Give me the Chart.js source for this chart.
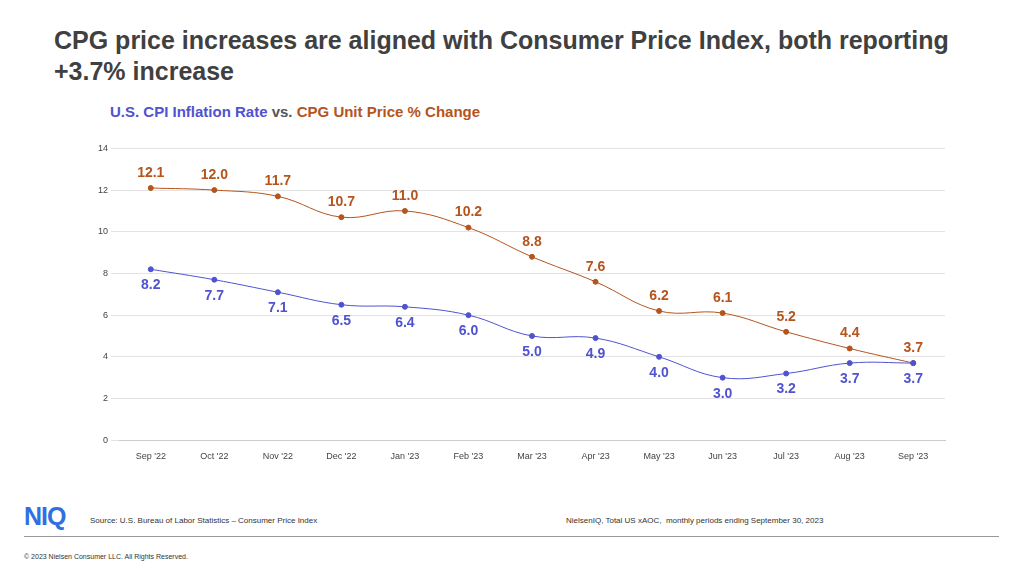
<!DOCTYPE html>
<html><head><meta charset="utf-8">
<script src="https://cdn.jsdelivr.net/npm/chart.js@4"></script>
<style>
body{margin:0;width:1024px;height:576px;background:#fff;font-family:Arial,"Liberation Sans",sans-serif;position:relative;overflow:hidden}
.t{position:absolute;left:54px;top:25px;font-size:25px;font-weight:bold;color:#404040;line-height:31px;width:960px}
.st{position:absolute;left:110px;top:103px;font-size:15px;font-weight:bold;color:#555}
#wrap{position:absolute;left:95px;top:140px;width:860px;height:325px}
.f{position:absolute;font-size:8px;color:#333}
.logo{position:absolute;left:24px;top:502px;font-size:25px;font-weight:900;color:#2f6fe0;letter-spacing:-1px}
.rule{position:absolute;left:24px;top:536px;width:975px;height:1px;background:#999}
</style></head><body>
<div class="t">CPG price increases are aligned with Consumer Price Index, both reporting +3.7% increase</div>
<div class="st"><span style="color:#4F53CF">U.S. CPI Inflation Rate</span> vs. <span style="color:#B5541C">CPG Unit Price % Change</span></div>
<div id="wrap"><canvas id="c"></canvas></div>
<div class="logo">NIQ</div>
<div class="f" style="left:90px;top:516px">Source: U.S. Bureau of Labor Statistics – Consumer Price Index</div>
<div class="f" style="left:566px;top:516px">NielsenIQ, Total US xAOC,&nbsp; monthly periods ending September 30, 2023</div>
<div class="rule"></div>
<div class="f" style="left:24px;top:553px;font-size:7px">© 2023 Nielsen Consumer LLC. All Rights Reserved.</div>
<script>
const categories=["Sep '22","Oct '22","Nov '22","Dec '22","Jan '23","Feb '23","Mar '23","Apr '23","May '23","Jun '23","Jul '23","Aug '23","Sep '23"];
const cpi=[8.2,7.7,7.1,6.5,6.4,6.0,5.0,4.9,4.0,3.0,3.2,3.7,3.7];
const cpg=[12.1,12.0,11.7,10.7,11.0,10.2,8.8,7.6,6.2,6.1,5.2,4.4,3.7];
const yTicks=[0,2,4,6,8,10,12,14];
const BLUE='#4F53CF',ORANGE='#B5541C';
const labels={id:'lbl',afterDatasetsDraw(ch){const x=ch.ctx;x.save();x.font='bold 14px Arial';x.textAlign='center';
ch.data.datasets.forEach((d,i)=>{const m=ch.getDatasetMeta(i);x.fillStyle=d.borderColor;
m.data.forEach((p,j)=>{x.textBaseline=i==1?'bottom':'top';x.fillText(d.data[j].toFixed(1),p.x,i==1?p.y-8:p.y+9);});});x.restore();}};
new Chart(document.getElementById('c'),{type:'line',
data:{labels:categories,datasets:[
{data:cpi,borderColor:BLUE,backgroundColor:BLUE,borderWidth:1,pointRadius:2.5,tension:0.4},
{data:cpg,borderColor:ORANGE,backgroundColor:ORANGE,borderWidth:1,pointRadius:2.5,tension:0.4}]},
options:{responsive:true,maintainAspectRatio:false,animation:false,
layout:{padding:{right:10}},
plugins:{legend:{display:false},tooltip:{enabled:false}},
scales:{
x:{offset:true,grid:{display:false},border:{color:'#ccc'},ticks:{color:'#444',font:{size:9}}},
y:{min:0,max:14,afterBuildTicks(s){s.ticks=yTicks.map(v=>({value:v}));},grid:{color:'#e3e3e3'},border:{display:false},ticks:{color:'#444',font:{size:9}}}
}},
plugins:[labels]});
</script></body></html>
